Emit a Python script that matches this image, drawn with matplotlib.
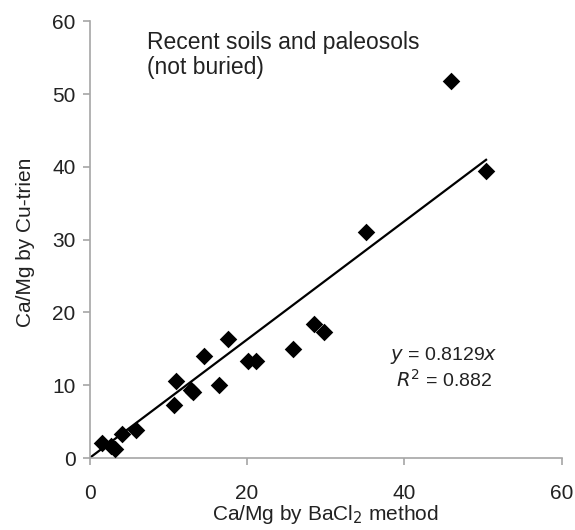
from matplotlib import pyplot as plt
import numpy as np

plt.rcParams['font.family'] = ['Liberation Sans', 'DejaVu Sans']

# Ca/Mg ratios
BaCl2 = [1.6, 2.7, 3.3, 4.1, 5.9, 10.7, 11.0, 12.9, 13.2, 14.5, 16.4, 17.6,
         20.1, 21.1, 25.8, 28.5, 29.8, 35.1, 45.9, 50.4]
CuTrien = [2.0, 1.6, 1.2, 3.3, 3.9, 7.3, 10.6, 9.3, 9.1, 14.0, 10.0, 16.3,
           13.3, 13.3, 15.0, 18.4, 17.3, 31.1, 51.8, 39.5]
Slope = 0.8129
RSquared = 0.882
XTicks = [0, 20, 40, 60]
YTicks = [0, 10, 20, 30, 40, 50, 60]

SpineColor = '#a6a6a6'
TextColor = '#222222'

fig = plt.figure(figsize=(5.75, 5.3), dpi=100)
ax1 = fig.add_axes([0.1557, 0.1358, 0.821, 0.824])

XFit = np.array([0, max(BaCl2)])
ax1.plot(XFit, Slope * XFit, color='black', linewidth=1.6, zorder=2)
ax1.scatter(BaCl2, CuTrien, marker='D', s=80, color='black', zorder=3, linewidths=0)

ax1.set_xlim(0, 60)
ax1.set_ylim(0, 60)
ax1.set_xticks(XTicks)
ax1.set_yticks(YTicks)
for side in ['top', 'right']:
    ax1.spines[side].set_visible(False)
for side in ['left', 'bottom']:
    ax1.spines[side].set_color(SpineColor)
    ax1.spines[side].set_linewidth(1.2)
ax1.tick_params(direction='out', length=5, width=1.2, color=SpineColor,
                labelsize=15, labelcolor=TextColor)
ax1.tick_params(axis='x', pad=14)
ax1.tick_params(axis='y', pad=5)

ax1.set_xlabel('Ca/Mg by BaCl$_2$ method', fontsize=15, color=TextColor)
ax1.set_ylabel('Ca/Mg by Cu-trien', fontsize=15, color=TextColor)
ax1.xaxis.set_label_coords(0.5, -0.103)
ax1.yaxis.set_label_coords(-0.115, 0.494)

ax1.text(7.3, 58.6, 'Recent soils and paleosols\n(not buried)', fontsize=16.5,
         color=TextColor, va='top', ha='left', linespacing=1.1)
ax1.text(45.0, 14.1, '$y$ = ' + str(Slope) + '$x$', fontsize=14,
         color=TextColor, ha='center', va='center')
ax1.text(45.0, 10.7, '$R^2$ = ' + str(RSquared), fontsize=14, color=TextColor,
         ha='center', va='center')

fig.savefig('out.png', dpi=100)
